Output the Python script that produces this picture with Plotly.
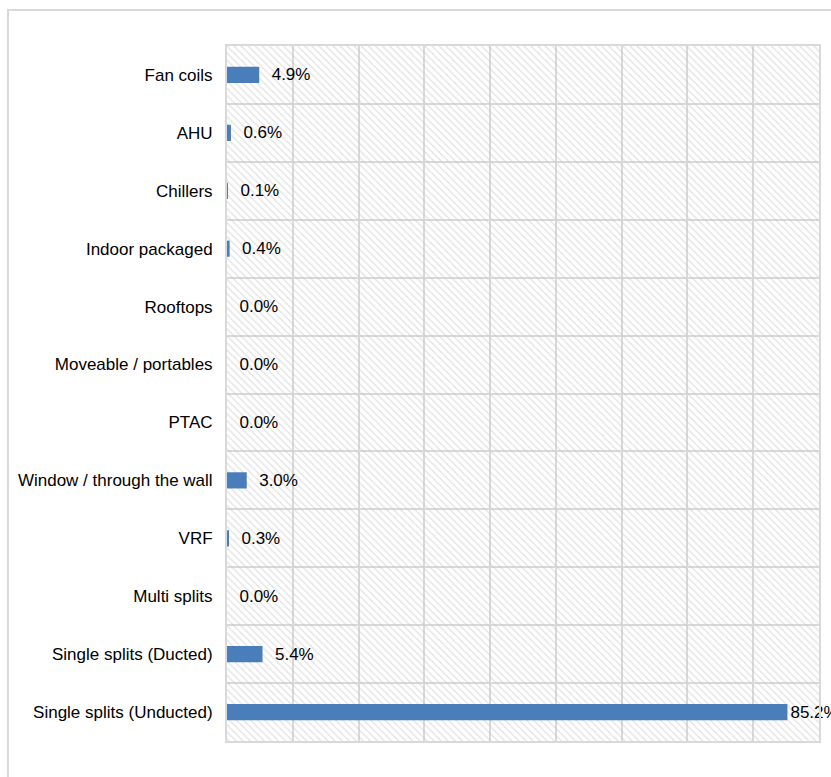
import plotly.graph_objects as go

# Share of installed units by equipment type (%)
categories = [
    "Fan coils",
    "AHU",
    "Chillers",
    "Indoor packaged",
    "Rooftops",
    "Moveable / portables",
    "PTAC",
    "Window / through the wall",
    "VRF",
    "Multi splits",
    "Single splits (Ducted)",
    "Single splits (Unducted)",
]
shares = [4.9, 0.6, 0.1, 0.4, 0.0, 0.0, 0.0, 3.0, 0.3, 0.0, 5.4, 85.2]

x_max = 90
x_step = 10

FONT = "Liberation Sans, Arial, sans-serif"
FSIZE = 17
GRID = "#d9d9d9"
BAR = "#4a7ebb"
NB = "\u00a0"

# value labels sit a little off the bar end; the longest bar keeps its label tight
labels = [("" if v > 0.9 * x_max else NB * 2) + f"{v:.1f}%" for v in shares]

fig = go.Figure()

# hatched plot background, one full-width band per category
fig.add_trace(go.Bar(
    y=categories,
    x=[x_max] * len(categories),
    orientation="h",
    width=1,
    marker=dict(
        color="rgba(0,0,0,0)",
        line=dict(width=0),
        pattern=dict(shape="\\", fgcolor="#c4c4c4", bgcolor="rgba(0,0,0,0)",
                     size=5, solidity=0.25),
    ),
    hoverinfo="skip",
    showlegend=False,
))

fig.add_trace(go.Bar(
    y=categories,
    x=shares,
    orientation="h",
    width=0.28,
    marker=dict(color=BAR, line=dict(width=0)),
    text=labels,
    textposition="outside",
    textfont=dict(family=FONT, size=FSIZE, color="#000000"),
    cliponaxis=False,
    constraintext="none",
    showlegend=False,
))

fig.update_layout(
    width=831,
    height=777,
    margin=dict(l=227, r=12, t=46, b=36),
    barmode="overlay",
    paper_bgcolor="white",
    plot_bgcolor="white",
    font=dict(family=FONT, size=FSIZE, color="#000000"),
    shapes=[dict(
        type="rect", xref="paper", yref="paper",
        x0=-0.37, x1=2.0, y0=-1.0, y1=1.0518,
        line=dict(color=GRID, width=2), fillcolor="rgba(0,0,0,0)",
        layer="below",
    )],
)

fig.update_xaxes(
    range=[0, x_max],
    dtick=x_step,
    showgrid=True,
    gridcolor=GRID,
    gridwidth=2,
    zeroline=False,
    showticklabels=False,
    ticks="",
    showline=True,
    mirror=True,
    linecolor=GRID,
    linewidth=2,
    automargin=False,
)

fig.update_yaxes(
    type="category",
    autorange="reversed",
    tickson="boundaries",
    showgrid=True,
    gridcolor=GRID,
    gridwidth=2,
    ticks="",
    ticklabelstandoff=9,
    showline=True,
    mirror=True,
    linecolor=GRID,
    linewidth=2,
    automargin=False,
    tickfont=dict(family=FONT, size=FSIZE, color="#000000"),
)

fig.write_html("out.html")
